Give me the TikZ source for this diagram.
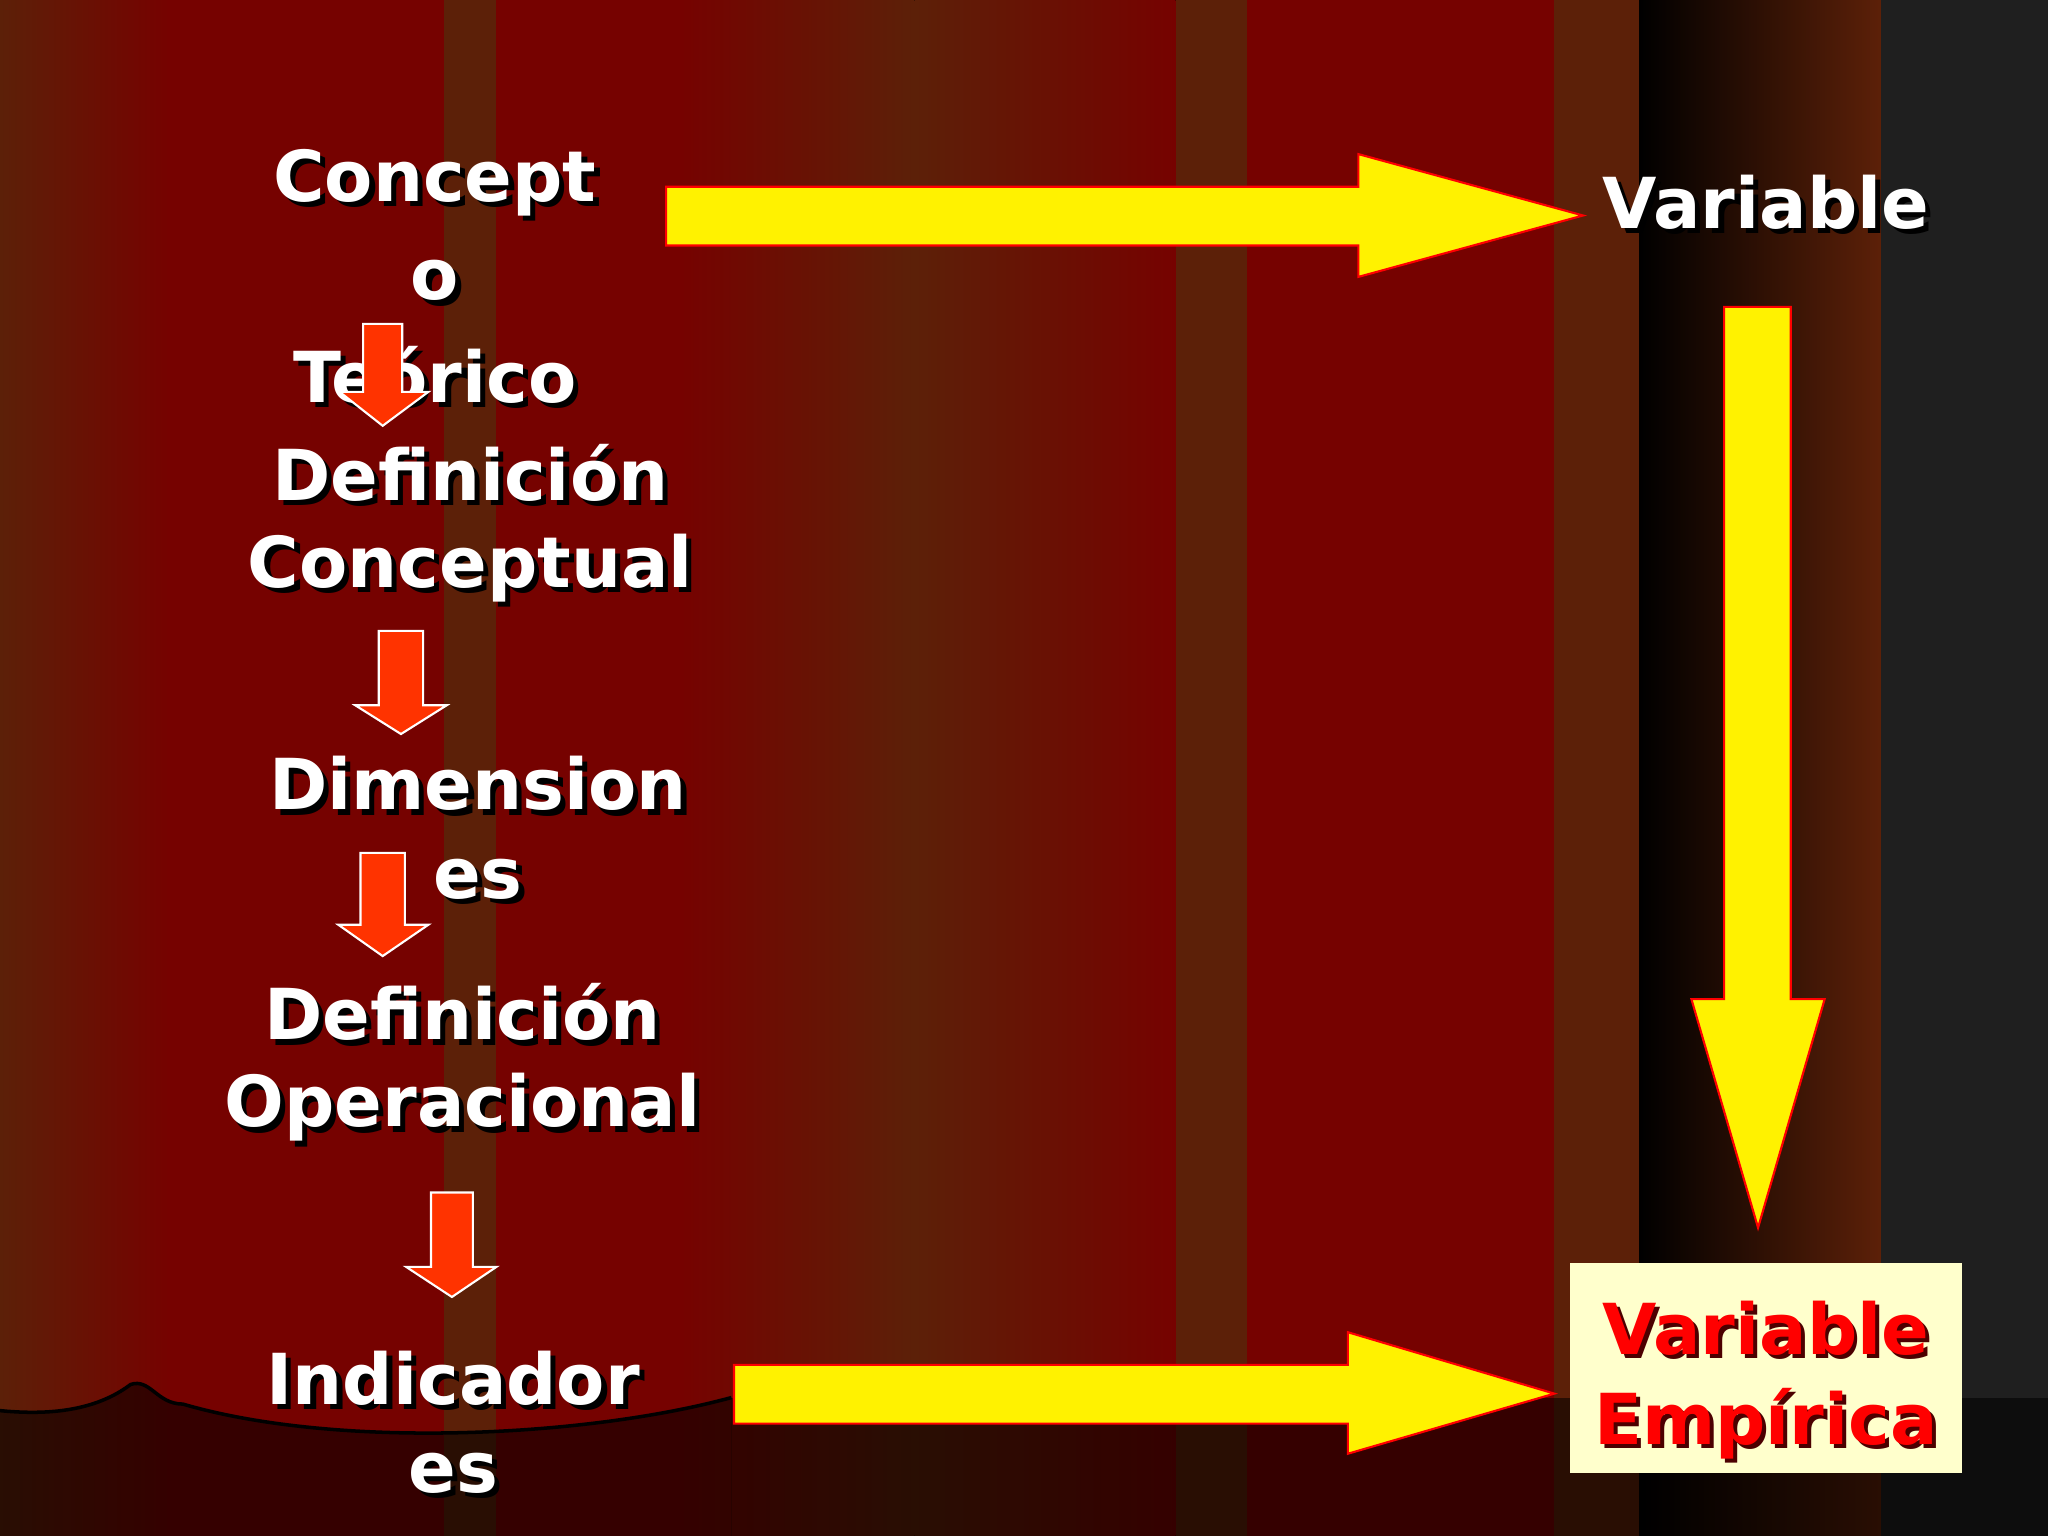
\documentclass[tikz,border=0pt]{standalone}
\usepackage{fontspec}
\setmainfont{DejaVu Sans}
\begin{document}
\begin{tikzpicture}[x=0.013061cm,y=-0.013061cm,
 lbl/.style={font=\fontsize{20}{22}\selectfont\bfseries,inner sep=0},
 bigarrow/.style={fill=yellow,draw=red,line width=0.6pt},
 smallarrow/.style={fill={rgb,255:red,255;green,51;blue,0},draw=white,line width=0.6pt}]
\definecolor{cbrown}{RGB}{92,32,8}
\definecolor{cred}{RGB}{118,2,0}
\useasboundingbox (0,0) rectangle (1568,1176);
% curtain stripes
\fill[cbrown] (0,0) rectangle (130,1176);
\fill[left color=cbrown,right color=cred] (0,0) rectangle (130,1176);
\fill[cred] (130,0) rectangle (340,1176);
\fill[cbrown] (340,0) rectangle (380,1176);
\fill[cred] (380,0) rectangle (520,1176);
\fill[left color=cred,right color=cbrown] (520,0) rectangle (700,1176);
\fill[left color=cbrown,right color=cred] (700,0) rectangle (900,1176);
\fill[cbrown] (900,0) rectangle (955,1176);
\fill[cred] (955,0) rectangle (1190,1176);
\fill[cbrown] (1190,0) rectangle (1255,1176);
\fill[left color=black,right color=cbrown] (1255,0) rectangle (1440,1176);
\fill[black!88] (1440,0) rectangle (1568,1176);
% curtain bottom edge
\fill[black,opacity=0.55] (0,1080) .. controls (50,1085) and (80,1075) .. (100,1060) .. controls (115,1055) and (120,1075) .. (140,1075) .. controls (260,1110) and (450,1100) .. (560,1070) -- (560,1176) -- (0,1176) -- cycle;
\fill[black,opacity=0.55] (560,1070) -- (1568,1070) -- (1568,1176) -- (560,1176) -- cycle;
\draw[black,line width=1pt] (0,1080) .. controls (50,1085) and (80,1075) .. (100,1060) .. controls (115,1055) and (120,1075) .. (140,1075) .. controls (260,1110) and (450,1100) .. (560,1070);
% texts
\foreach \n/\x/\y/\t in {t1/333/140/Concept,t2/333/215/o,t3/333/287/Teórico,t4/360/362/Definición,t5/360/435/Conceptual,t6/366/600/Dimension,t7/366/673/es,t8/354/775/Definición,t9/354/848/Operacional,t10/347/1055/Indicador,t11/347/1128/es,t12/1352/155/Variable}{
 \node[lbl,black] at (\x+4,\y+4) {\t};
 \node[lbl,white] (\n) at (\x,\y) {\t};}
% small arrows
\filldraw[smallarrow] (278,248) -- (308,248) -- (308,300) -- (328,300) -- (293,326) -- (260,300) -- (278,300) -- cycle;
\filldraw[smallarrow] (290,483) -- (324,483) -- (324,540) -- (342,540) -- (307,562) -- (272,540) -- (290,540) -- cycle;
\filldraw[smallarrow] (276,653) -- (310,653) -- (310,708) -- (328,708) -- (293,732) -- (259,708) -- (276,708) -- cycle;
\filldraw[smallarrow] (330,913) -- (362,913) -- (362,970) -- (380,970) -- (346,993) -- (311,970) -- (330,970) -- cycle;
% big arrows
\filldraw[bigarrow] (510,143) -- (1040,143) -- (1040,118) -- (1212,165) -- (1040,212) -- (1040,188) -- (510,188) -- cycle;
\filldraw[bigarrow] (562,1045) -- (1032,1045) -- (1032,1020) -- (1190,1067) -- (1032,1113) -- (1032,1090) -- (562,1090) -- cycle;
\filldraw[bigarrow] (1320,235) -- (1371,235) -- (1371,765) -- (1397,765) -- (1346,940) -- (1295,765) -- (1320,765) -- cycle;
% box
\node[fill={rgb,255:red,255;green,255;blue,204},minimum width=300*0.013061cm,minimum height=161*0.013061cm,inner sep=0] (box) at (1352,1047.5) {};
\foreach \n/\y/\t in {e1/1017/Variable,e2/1090/Empírica}{
 \node[lbl,black!70!red] at (1355,\y+3) {\t};
 \node[lbl,red] (\n) at (1352,\y) {\t};}
\end{tikzpicture}
\end{document}
